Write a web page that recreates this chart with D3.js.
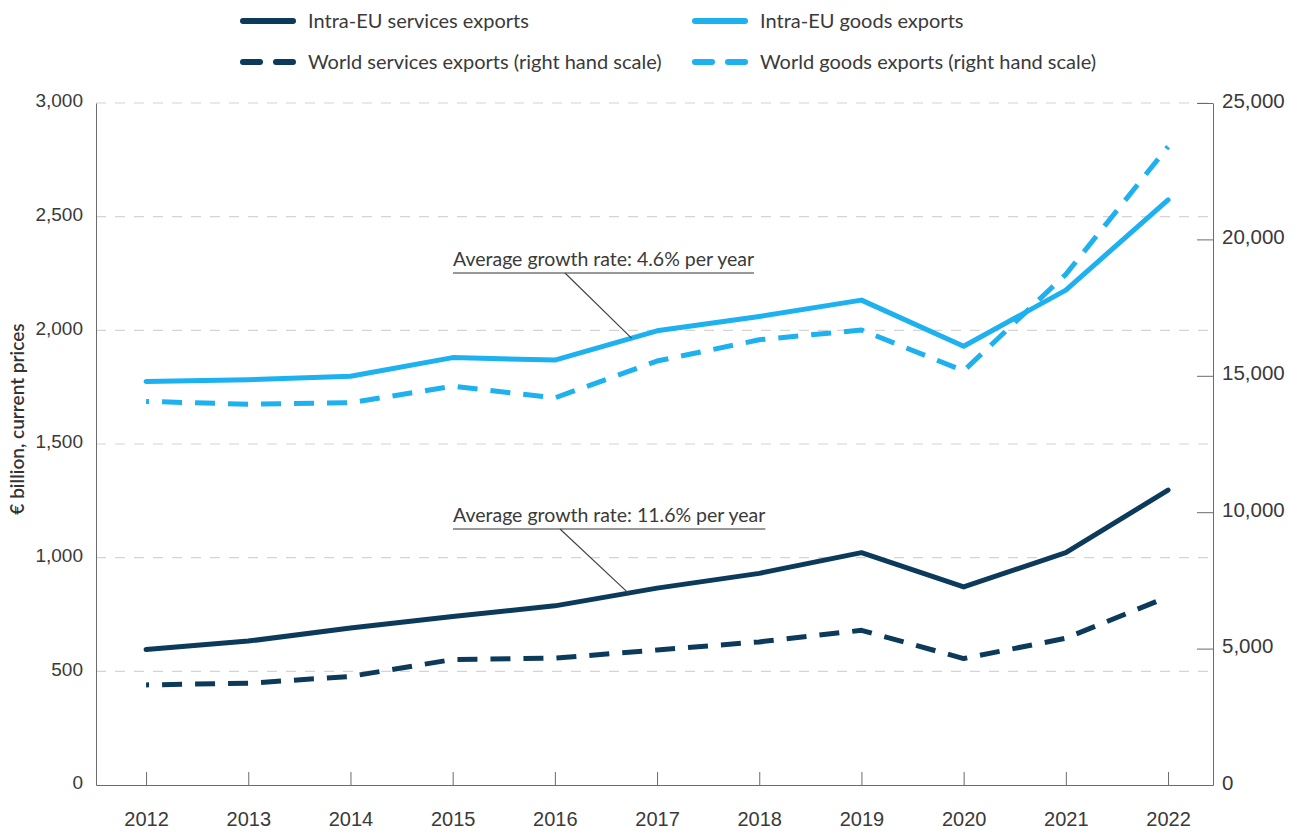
<!DOCTYPE html>
<html>
<head>
<meta charset="utf-8">
<script src="https://cdn.jsdelivr.net/npm/d3@7"></script>
<style>
  body { margin: 0; background: #fff; }
  svg { display: block; font-family: Lato, "Open Sans", sans-serif; }
  .axis text { fill: #3a3a3a; font-size: 19px; }
  .axis path, .axis line { stroke: #6b6b6b; }
</style>
</head>
<body>
<div id="chart"></div>
<script>
// Data
const years = [2012, 2013, 2014, 2015, 2016, 2017, 2018, 2019, 2020, 2021, 2022];
const intraServices = [596, 633, 691, 741, 788, 866, 931, 1022, 871, 1022, 1297];
const intraGoods    = [1775, 1783, 1798, 1880, 1869, 1998, 2061, 2133, 1930, 2177, 2574];
const worldServices = [3670, 3730, 3980, 4600, 4650, 4950, 5245, 5670, 4635, 5380, 6900];
const worldGoods    = [14060, 13960, 14010, 14620, 14190, 15540, 16320, 16680, 15180, 18720, 23400];
const leftTicks  = [0, 500, 1000, 1500, 2000, 2500, 3000];
const rightTicks = [0, 5000, 10000, 15000, 20000, 25000];
const legendItems = [
  { label: "Intra-EU services exports", colour: "#0c3a5b", dashed: false },
  { label: "Intra-EU goods exports", colour: "#1db1ef", dashed: false },
  { label: "World services exports (right hand scale)", colour: "#0c3a5b", dashed: true },
  { label: "World goods exports (right hand scale)", colour: "#1db1ef", dashed: true }
];
const notes = [
  { text: "Average growth rate: 4.6% per year", series: intraGoods, at: 2016.75 },
  { text: "Average growth rate: 11.6% per year", series: intraServices, at: 2016.72 }
];

(function() {
  const fullW = 1300, fullH = 832;
  const plotTop = 103, plotBottom = 785, plotLeft = 96, plotRight = 1213;

  const svg = d3.select("#chart").append("svg")
    .attr("width", fullW).attr("height", fullH);

  // Scales
  const x = d3.scaleLinear().domain([2011.51, 2022.44]).range([plotLeft, plotRight]);
  const yL = d3.scaleLinear().domain([0, 3000]).range([plotBottom, plotTop]);
  const yR = d3.scaleLinear().domain([0, 25000]).range([plotBottom, plotTop]);

  // Grid
  svg.append("g")
    .selectAll("line")
    .data(leftTicks.filter(d => d > 0))
    .join("line")
    .attr("x1", plotLeft).attr("x2", plotRight)
    .attr("y1", d => yL(d)).attr("y2", d => yL(d))
    .attr("stroke", "#d4d4d4")
    .attr("stroke-width", 1.2)
    .attr("stroke-dasharray", "10,9");

  // Axes
  const leftAxis = svg.append("g").attr("class", "axis")
    .attr("transform", `translate(${plotLeft},0)`)
    .call(d3.axisLeft(yL).tickValues(leftTicks).tickFormat(d3.format(","))
      .tickSize(0).tickPadding(13));
  leftAxis.selectAll(".tick text").attr("dy", "0.2em");

  const rightAxis = svg.append("g").attr("class", "axis")
    .attr("transform", `translate(${plotRight},0)`)
    .call(d3.axisRight(yR).tickValues(rightTicks).tickFormat(d3.format(","))
      .tickSizeInner(-16).tickSizeOuter(0).tickPadding(9));
  rightAxis.selectAll(".tick text").attr("dy", "0.2em").style("font-size", "20.5px");
  rightAxis.selectAll(".tick").filter(d => d === 0).select("line").remove();

  const bottomAxis = svg.append("g").attr("class", "axis")
    .attr("transform", `translate(0,${plotBottom})`)
    .call(d3.axisBottom(x).tickValues(years).tickFormat(d3.format("d"))
      .tickSizeInner(-13).tickSizeOuter(0).tickPadding(27));
  bottomAxis.selectAll(".tick text").style("font-size", "20px");

  // Axis title
  svg.append("text")
    .attr("transform", `translate(24,${(plotTop + plotBottom) / 2 - 25}) rotate(-90)`)
    .attr("text-anchor", "middle")
    .attr("fill", "#333")
    .style("font-size", "19px")
    .style("font-weight", 600)
    .text("€ billion, current prices");

  // Lines
  const lineL = d3.line().x((d, i) => x(years[i])).y(d => yL(d));
  const lineR = d3.line().x((d, i) => x(years[i])).y(d => yR(d));

  const series = [
    { data: worldServices, gen: lineR, style: legendItems[2] },
    { data: worldGoods, gen: lineR, style: legendItems[3] },
    { data: intraServices, gen: lineL, style: legendItems[0] },
    { data: intraGoods, gen: lineL, style: legendItems[1] }
  ];

  svg.append("g").selectAll("path")
    .data(series)
    .join("path")
    .attr("d", d => d.gen(d.data))
    .attr("fill", "none")
    .attr("stroke", d => d.style.colour)
    .attr("stroke-width", 5)
    .attr("stroke-linejoin", "round")
    .attr("stroke-linecap", d => d.style.dashed ? "butt" : "round")
    .attr("stroke-dasharray", d => d.style.dashed ? "20,13" : null)
    .attr("stroke-dashoffset", d => d.style.dashed ? 17 : null);

  // Annotations
  const noteG = svg.append("g");
  const noteY = [266, 522];
  const leaderFrom = [112, 107];
  notes.forEach((n, k) => {
    const x0 = 453;
    const ty = noteY[k];
    const t = noteG.append("text")
      .attr("x", x0)
      .attr("y", ty)
      .attr("fill", "#3a3a3a")
      .style("font-size", "19.5px")
      .text(n.text);
    const w = t.node().getComputedTextLength();
    noteG.append("line")
      .attr("x1", x0).attr("x2", x0 + w)
      .attr("y1", ty + 7).attr("y2", ty + 7)
      .attr("stroke", "#777").attr("stroke-width", 1.3);
    // leader end on the series
    const i = Math.floor(n.at - years[0]);
    const f = n.at - years[i];
    const v = n.series[i] + (n.series[i + 1] - n.series[i]) * f;
    noteG.append("line")
      .attr("x1", x0 + leaderFrom[k]).attr("y1", ty + 7)
      .attr("x2", x(n.at)).attr("y2", yL(v))
      .attr("stroke", "#444").attr("stroke-width", 1.2);
  });

  // Legend
  const legendPos = [[240, 21], [692, 21], [240, 62], [692, 62]];
  const lg = svg.append("g").selectAll("g")
    .data(legendItems)
    .join("g")
    .attr("transform", (d, i) => `translate(${legendPos[i][0]},${legendPos[i][1]})`);
  lg.append("line")
    .attr("x1", 3).attr("x2", 53)
    .attr("stroke", d => d.colour)
    .attr("stroke-width", 6)
    .attr("stroke-linecap", "round")
    .attr("stroke-dasharray", d => d.dashed ? "17,16" : null);
  lg.append("text")
    .attr("x", 68)
    .attr("dy", "0.35em")
    .attr("fill", "#3a3a3a")
    .style("font-size", "20px")
    .text(d => d.label);
})();
</script>
</body>
</html>
